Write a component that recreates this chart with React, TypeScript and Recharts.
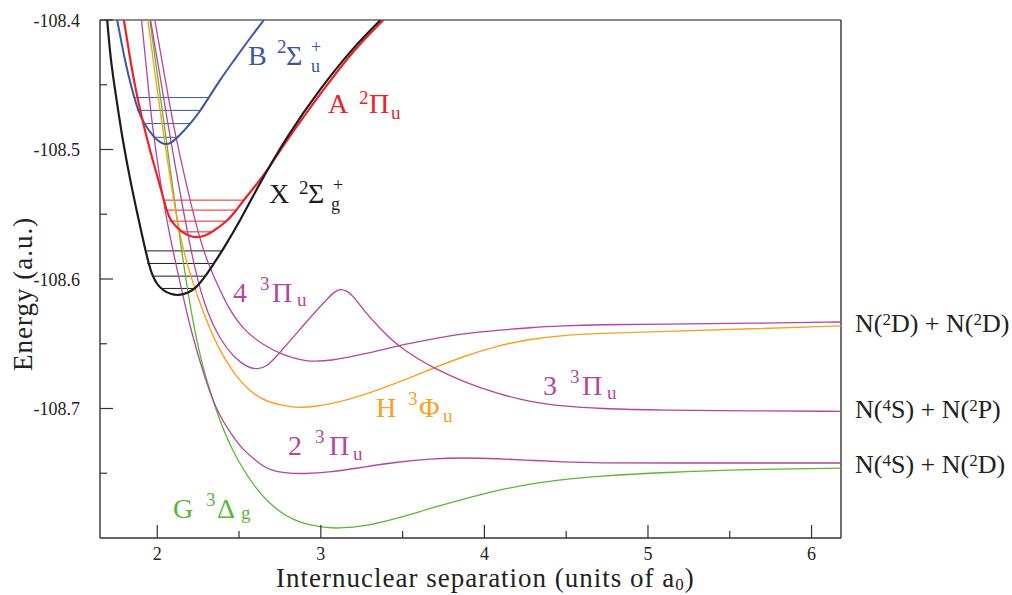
import React from 'react';
import { LineChart, Line, XAxis, YAxis, ReferenceLine, Customized } from 'recharts';

// Each point is [internuclear separation r (a0), energy E (a.u.)]
type Pt = [number, number];
// Vibrational level: [energy, left turning point r, right turning point r]
type Level = [number, number, number];

const rDomain: [number, number] = [1.65, 6.18];
const eDomain: [number, number] = [-108.8, -108.4];

const xTicks = [2, 2.5, 3, 3.5, 4, 4.5, 5, 5.5, 6];
const xTickLabels = ['2', '', '3', '', '4', '', '5', '', '6'];
const yTicks = [-108.75, -108.7, -108.65, -108.6, -108.55, -108.5, -108.45, -108.4];
const yTickLabels = ['', '-108.7', '', '-108.6', '', '-108.5', '', '-108.4'];

// Doublet (N2+) states
const xState: Pt[] = [
  [1.694, -108.4], [1.715, -108.4309], [1.745, -108.4564], [1.788, -108.4927], [1.837, -108.5252],
  [1.88, -108.5507], [1.91, -108.5677], [1.928, -108.5777], [1.947, -108.5878], [1.971, -108.5978],
  [2.002, -108.6048], [2.039, -108.609], [2.081, -108.6117], [2.13, -108.6129], [2.191, -108.6106],
  [2.234, -108.6073], [2.295, -108.5978], [2.346, -108.588], [2.397, -108.5783], [2.509, -108.5546],
  [2.613, -108.5291], [2.796, -108.4889], [2.998, -108.4526], [3.2, -108.4209], [3.365, -108.4],
];
const aState: Pt[] = [
  [1.796, -108.4], [1.831, -108.4278], [1.867, -108.4533], [1.91, -108.4781], [1.959, -108.5024],
  [2.002, -108.5213], [2.039, -108.5383], [2.057, -108.5468], [2.081, -108.5553], [2.142, -108.5631],
  [2.185, -108.5662], [2.234, -108.5681], [2.283, -108.5673], [2.336, -108.5638], [2.428, -108.5553],
  [2.479, -108.5476], [2.529, -108.5391], [2.601, -108.5279], [2.674, -108.5159], [2.796, -108.492],
  [2.998, -108.4568], [3.2, -108.4232], [3.383, -108.4],
];
const bState: Pt[] = [
  [1.755, -108.4], [1.776, -108.4139], [1.8, -108.4294], [1.825, -108.4433], [1.855, -108.458],
  [1.88, -108.4688], [1.916, -108.4796], [1.979, -108.4906], [2.02, -108.4947], [2.051, -108.4962],
  [2.081, -108.4954], [2.126, -108.4906], [2.204, -108.48], [2.265, -108.4698], [2.315, -108.4599],
  [2.387, -108.4456], [2.466, -108.4317], [2.558, -108.4155], [2.652, -108.4],
];

// Triplet (N2) states
const gState: Pt[] = [
  [1.955, -108.4], [1.996, -108.4379], [2.039, -108.4773], [2.081, -108.5167], [2.124, -108.5561],
  [2.149, -108.5777], [2.185, -108.6087], [2.228, -108.6396], [2.271, -108.6643], [2.32, -108.6859],
  [2.402, -108.7168], [2.488, -108.74], [2.61, -108.7632], [2.693, -108.774], [2.778, -108.7825],
  [2.876, -108.7883], [2.998, -108.7916], [3.102, -108.7928], [3.285, -108.7906], [3.469, -108.7848],
  [3.671, -108.7771], [3.872, -108.77], [4.08, -108.7632], [4.282, -108.758], [4.483, -108.7547],
  [4.691, -108.7523], [5.095, -108.7493], [5.627, -108.747], [6.18, -108.746],
];
const hState: Pt[] = [
  [1.943, -108.4], [1.983, -108.4386], [2.026, -108.4773], [2.069, -108.5144], [2.112, -108.5484],
  [2.161, -108.5793], [2.216, -108.6025], [2.283, -108.6264], [2.369, -108.6527], [2.466, -108.6728],
  [2.57, -108.6875], [2.674, -108.6952], [2.815, -108.6993], [2.955, -108.6991], [3.163, -108.6937],
  [3.365, -108.685], [3.567, -108.6752], [3.689, -108.6688], [3.872, -108.6597], [4.08, -108.6515],
  [4.282, -108.6463], [4.483, -108.6435], [4.691, -108.642], [5.095, -108.6405], [5.627, -108.6385],
  [6.18, -108.6362],
];
const pi2State: Pt[] = [
  [1.904, -108.4], [1.935, -108.4386], [1.965, -108.4773], [2.008, -108.5159], [2.057, -108.5546],
  [2.106, -108.5839], [2.136, -108.6009], [2.204, -108.6396], [2.295, -108.6782], [2.369, -108.7037],
  [2.466, -108.7223], [2.528, -108.7323], [2.601, -108.74], [2.65, -108.7447], [2.693, -108.7474],
  [2.772, -108.7498], [2.894, -108.7505], [3.059, -108.7493], [3.261, -108.7452], [3.469, -108.7413],
  [3.671, -108.7387], [3.872, -108.738], [4.08, -108.7387], [4.282, -108.74], [4.483, -108.7413],
  [4.691, -108.7421], [5.095, -108.7421], [6.18, -108.7421],
];
const pi3State: Pt[] = [
  [1.959, -108.4], [2.011, -108.4386], [2.061, -108.4773], [2.112, -108.5144], [2.161, -108.5484],
  [2.204, -108.5762], [2.246, -108.6009], [2.307, -108.6264], [2.387, -108.6473], [2.466, -108.6602],
  [2.552, -108.6684], [2.613, -108.6699], [2.674, -108.6674], [2.735, -108.6589], [2.833, -108.6447],
  [2.937, -108.6293], [3.041, -108.6151], [3.084, -108.6098], [3.12, -108.6076], [3.157, -108.609],
  [3.194, -108.6125], [3.261, -108.6241], [3.365, -108.6388], [3.469, -108.6515], [3.591, -108.6614],
  [3.689, -108.6686], [3.872, -108.6795], [4.08, -108.6885], [4.282, -108.695], [4.483, -108.6983],
  [4.691, -108.7001], [5.095, -108.7014], [5.627, -108.7018], [6.18, -108.7022],
];
const pi4State: Pt[] = [
  [1.985, -108.4], [2.039, -108.4386], [2.094, -108.4788], [2.158, -108.5159], [2.222, -108.5507],
  [2.289, -108.5816], [2.356, -108.6009], [2.43, -108.6216], [2.528, -108.6396], [2.65, -108.6512],
  [2.772, -108.6589], [2.906, -108.6639], [3.059, -108.6633], [3.261, -108.6581], [3.469, -108.6515],
  [3.671, -108.6465], [3.872, -108.6421], [4.08, -108.6396], [4.282, -108.6375], [4.483, -108.6362],
  [4.691, -108.6352], [5.095, -108.6349], [5.627, -108.6342], [6.18, -108.6332],
];

// Lowest vibrational levels in the ionic wells
const xLevels: Level[] = [
  [-108.5783, 1.928, 2.397], [-108.588, 1.939, 2.346], [-108.5978, 1.969, 2.295], [-108.6073, 2.031, 2.234],
];
const aLevels: Level[] = [
  [-108.5391, 2.04, 2.529], [-108.5468, 2.051, 2.479], [-108.5553, 2.071, 2.428], [-108.5636, 2.142, 2.336],
];
const bLevels: Level[] = [
  [-108.4599, 1.857, 2.315], [-108.4698, 1.878, 2.265], [-108.48, 1.918, 2.204], [-108.4906, 1.979, 2.126],
];

const COLORS = {
  black: '#1c1c1c',
  red: '#ec2227',
  blue: '#3a56a6',
  magenta: '#b4469e',
  orange: '#f9a11b',
  green: '#5db535',
};

const SERIF = '"Liberation Serif", "Times New Roman", serif';
const W = 1012;
const H = 595;
const PLOT_LEFT = 100;
const PLOT_BOTTOM = 538;
const AXIS_COLOR = '#333';

const toPts = (pts: Pt[]) => pts.map(([r, e]) => ({ r, e }));
const levelPts = ([e, r1, r2]: Level) => [{ r: r1, e }, { r: r2, e }];

function YTick(props: any) {
  const { y, payload } = props;
  const label = yTickLabels[yTicks.indexOf(payload.value)];
  const len = label ? 13 : 7;
  return (
    <g>
      <line x1={PLOT_LEFT} x2={PLOT_LEFT + len} y1={y} y2={y} stroke={AXIS_COLOR} strokeWidth={1.2} />
      {label ? (
        <text x={80} y={y + 6.7} textAnchor="end" fontSize={18} fontFamily={SERIF} fill="#222">
          {label}
        </text>
      ) : null}
    </g>
  );
}

function XTick(props: any) {
  const { x, payload } = props;
  const label = xTickLabels[xTicks.indexOf(payload.value)];
  const len = label ? 13 : 7;
  return (
    <g>
      <line x1={x} x2={x} y1={PLOT_BOTTOM} y2={PLOT_BOTTOM - len} stroke={AXIS_COLOR} strokeWidth={1.2} />
      {label ? (
        <text x={x} y={560} textAnchor="middle" fontSize={18} fontFamily={SERIF} fill="#222">
          {label}
        </text>
      ) : null}
    </g>
  );
}

function Annotations() {
  const big = 28;
  const small = 19;
  const tiny = 18;
  return (
    <g fontFamily={SERIF}>
      {/* state labels */}
      <text fill={COLORS.blue}>
        <tspan x={248} y={65} fontSize={big}>B</tspan>
        <tspan x={277} y={53} fontSize={small}>2</tspan>
        <tspan x={286} y={65} fontSize={big}>Σ</tspan>
        <tspan x={311} y={53} fontSize={tiny}>+</tspan>
        <tspan x={311} y={72} fontSize={tiny}>u</tspan>
      </text>
      <text fill={COLORS.red}>
        <tspan x={328} y={113} fontSize={big}>A</tspan>
        <tspan x={359} y={104} fontSize={small}>2</tspan>
        <tspan x={369} y={113} fontSize={big}>Π</tspan>
        <tspan x={391} y={118.5} fontSize={small}>u</tspan>
      </text>
      <text fill={COLORS.black}>
        <tspan x={269} y={203} fontSize={big}>X</tspan>
        <tspan x={299} y={194} fontSize={small}>2</tspan>
        <tspan x={308} y={203} fontSize={big}>Σ</tspan>
        <tspan x={333} y={191} fontSize={tiny}>+</tspan>
        <tspan x={331} y={210} fontSize={tiny}>g</tspan>
      </text>
      <text fill={COLORS.magenta}>
        <tspan x={233} y={301.7} fontSize={big}>4</tspan>
        <tspan x={260} y={290} fontSize={small}>3</tspan>
        <tspan x={272} y={301.7} fontSize={big}>Π</tspan>
        <tspan x={297} y={305.5} fontSize={small}>u</tspan>
      </text>
      <text fill={COLORS.magenta}>
        <tspan x={543} y={395} fontSize={big}>3</tspan>
        <tspan x={570} y={383} fontSize={small}>3</tspan>
        <tspan x={582} y={395} fontSize={big}>Π</tspan>
        <tspan x={607} y={399} fontSize={small}>u</tspan>
      </text>
      <text fill={COLORS.orange}>
        <tspan x={376} y={416.7} fontSize={big}>H</tspan>
        <tspan x={408} y={405} fontSize={small}>3</tspan>
        <tspan x={419} y={416.7} fontSize={big}>Φ</tspan>
        <tspan x={443} y={421.5} fontSize={small}>u</tspan>
      </text>
      <text fill={COLORS.magenta}>
        <tspan x={288} y={455} fontSize={big}>2</tspan>
        <tspan x={315} y={443} fontSize={small}>3</tspan>
        <tspan x={329} y={455} fontSize={big}>Π</tspan>
        <tspan x={353} y={459.5} fontSize={small}>u</tspan>
      </text>
      <text fill={COLORS.green}>
        <tspan x={173} y={518} fontSize={big}>G</tspan>
        <tspan x={206} y={506} fontSize={small}>3</tspan>
        <tspan x={217} y={518} fontSize={big}>Δ</tspan>
        <tspan x={241} y={519} fontSize={small}>g</tspan>
      </text>

      {/* dissociation limits */}
      <text x={855} y={331.7} fontSize={26} fill="#222">
        N(<tspan dy={-7} fontSize={17}>2</tspan>
        <tspan dy={7}>D) + N(</tspan>
        <tspan dy={-7} fontSize={17}>2</tspan>
        <tspan dy={7}>D)</tspan>
      </text>
      <text x={855} y={418.3} fontSize={26} fill="#222">
        N(<tspan dy={-7} fontSize={17}>4</tspan>
        <tspan dy={7}>S) + N(</tspan>
        <tspan dy={-7} fontSize={17}>2</tspan>
        <tspan dy={7}>P)</tspan>
      </text>
      <text x={855} y={473.3} fontSize={26} fill="#222">
        N(<tspan dy={-7} fontSize={17}>4</tspan>
        <tspan dy={7}>S) + N(</tspan>
        <tspan dy={-7} fontSize={17}>2</tspan>
        <tspan dy={7}>D)</tspan>
      </text>

      {/* axis titles */}
      <text x={276} y={587} fontSize={27} letterSpacing={1} fill="#222">
        Internuclear separation (units of a<tspan dy={3} fontSize={17}>0</tspan>
        <tspan dy={-3}>)</tspan>
      </text>
      <text transform="translate(32,371) rotate(-90)" x={0} y={0} fontSize={27} letterSpacing={1} fill="#222">
        Energy (a.u.)
      </text>
    </g>
  );
}

export default function App() {
  const curve = (key: string, pts: Pt[], color: string, width: number) => (
    <Line
      key={key}
      data={toPts(pts)}
      dataKey="e"
      type="basis"
      stroke={color}
      strokeWidth={width}
      dot={false}
      activeDot={false}
      isAnimationActive={false}
    />
  );
  const levels = (key: string, list: Level[], color: string) =>
    list.map((lv, i) => (
      <Line
        key={`${key}-${i}`}
        data={levelPts(lv)}
        dataKey="e"
        type="linear"
        stroke={color}
        strokeWidth={1}
        dot={false}
        activeDot={false}
        isAnimationActive={false}
      />
    ));

  return (
    <div style={{ position: 'absolute', left: 0, top: 0, width: W, height: H, background: '#fff' }}>
      <LineChart width={W} height={H} margin={{ top: 20, right: 171, bottom: 27, left: 0 }}>
        <XAxis
          type="number"
          dataKey="r"
          domain={rDomain}
          allowDataOverflow
          ticks={xTicks}
          interval={0}
          height={30}
          tickLine={false}
          tick={<XTick />}
          axisLine={{ stroke: AXIS_COLOR, strokeWidth: 1.6 }}
        />
        <YAxis
          type="number"
          dataKey="e"
          domain={eDomain}
          allowDataOverflow
          ticks={yTicks}
          interval={0}
          width={100}
          tickLine={false}
          tick={<YTick />}
          axisLine={{ stroke: AXIS_COLOR, strokeWidth: 1.4 }}
        />
        <ReferenceLine y={-108.4} stroke="#8a8a8a" strokeWidth={2} />
        <ReferenceLine x={6.18} stroke={AXIS_COLOR} strokeWidth={1.4} />

        {levels('xl', xLevels, COLORS.black)}
        {levels('al', aLevels, COLORS.red)}
        {levels('bl', bLevels, COLORS.blue)}

        {curve('g', gState, COLORS.green, 1.3)}
        {curve('h', hState, COLORS.orange, 1.4)}
        {curve('p2', pi2State, COLORS.magenta, 1.3)}
        {curve('p3', pi3State, COLORS.magenta, 1.3)}
        {curve('p4', pi4State, COLORS.magenta, 1.3)}
        {curve('b', bState, COLORS.blue, 2)}
        {curve('a', aState, COLORS.red, 2.2)}
        {curve('x', xState, COLORS.black, 2.2)}

        <Customized component={Annotations} />
      </LineChart>
    </div>
  );
}
